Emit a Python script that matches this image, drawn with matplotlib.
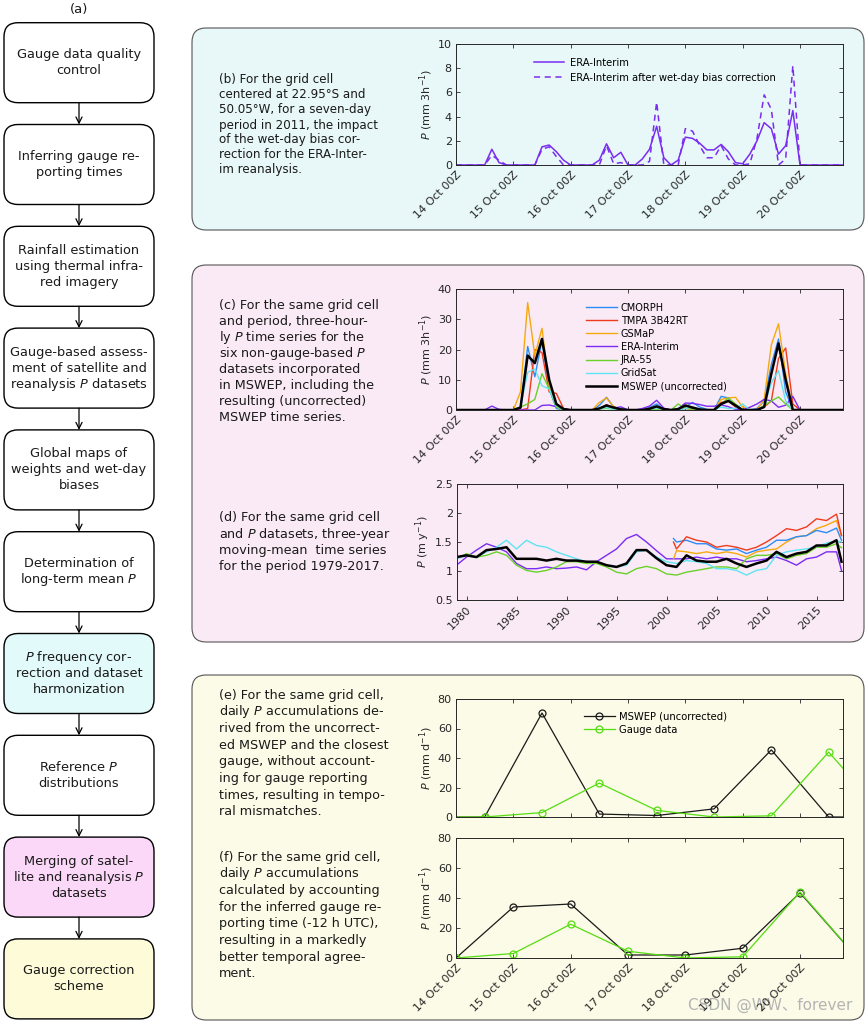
import numpy as np
import matplotlib
matplotlib.use('Agg')
import matplotlib.pyplot as plt
from matplotlib.patches import FancyBboxPatch

plt.rcParams['font.family'] = ['DejaVu Sans', 'Noto Sans CJK SC']
plt.rcParams['mathtext.fontset'] = 'dejavusans'

W, H = 868, 1024

# ---------------- data ----------------
day_labels = ['14 Oct 00Z', '15 Oct 00Z', '16 Oct 00Z', '17 Oct 00Z',
              '18 Oct 00Z', '19 Oct 00Z', '20 Oct 00Z']
t3h = np.arange(55) / 8.0   # 3-hourly time steps (days since 14 Oct 00Z)

# three-hourly P (mm 3h-1), one row per day
era = [0, 0, 0, 0, 0, 1.3, 0.2, 0,
       0, 0, 0, 0, 1.5, 1.65, 1.1, 0.4,
       0, 0, 0, 0, 0.4, 1.75, 0.6, 1.05,
       0, 0, 0.5, 1.3, 3.2, 0.6, 0, 0.4,
       2.3, 2.2, 1.8, 1.25, 1.25, 1.7, 1.1, 0.2,
       0.1, 0.9, 2.0, 3.5, 3.0, 0.9, 1.6, 4.5,
       0, 0, 0, 0, 0, 0, 0]
era_corr = [0, 0, 0, 0, 0, 0.8, 0.4, 0,
            0, 0, 0, 0, 1.3, 1.5, 0.7, 0,
            0, 0, 0, 0, 0, 1.6, 0.1, 0.2,
            0, 0, 0, 0.3, 5.2, 0, 0, 0,
            3.0, 2.8, 1.6, 0.6, 0.6, 1.6, 0.5, 0,
            0, 0.1, 2.2, 5.8, 4.6, 0, 0.5, 8.2,
            0, 0, 0, 0, 0, 0, 0]
cmorph = [0, 0, 0, 0, 0, 0, 0, 0,
          0, 0.5, 21, 11, 23, 7, 0.5, 0,
          0, 0, 0, 0, 1.5, 4.2, 1, 0.3,
          0, 0, 0, 0.8, 2, 0.3, 0, 0,
          1, 2.5, 1, 0.2, 0, 4.5, 4, 1,
          0, 0, 0.5, 3, 15, 23.5, 6, 0,
          0, 0, 0, 0, 0, 0, 0]
tmpa = [0, 0, 0, 0, 0, 0, 0, 0,
        0, 0, 0.5, 20, 19, 6, 5.5, 0.5,
        0, 0, 0, 0, 0.5, 1.2, 1, 0.3,
        0, 0, 0, 0, 0.8, 0.5, 0, 0,
        0.5, 0.3, 0, 0, 0, 2.5, 3, 1,
        0, 0, 0, 1, 3, 17, 20.5, 2,
        0, 0, 0, 0, 0, 0, 0]
gsmap = [0, 0, 0, 0, 0, 0, 0, 0,
         0, 6, 35.5, 18, 27, 8, 1, 0,
         0, 0, 0, 0, 2.5, 4, 1, 0,
         0, 0, 0, 0.5, 1.2, 0.3, 0, 0,
         1.5, 1, 0, 0, 0, 3.5, 4, 4.2,
         1, 0, 0, 3.5, 21.5, 28.5, 12, 0,
         0, 0, 0, 0, 0, 0, 0]
jra55 = [0, 0, 0, 0, 0, 0, 0, 0,
         0, 1, 2, 3.5, 12, 7, 1, 0,
         0, 0, 0, 0, 0.3, 0.5, 0.3, 0,
         0, 0, 0, 0.2, 0.3, 0, 0, 2,
         0.5, 0.3, 0, 0, 0, 2, 4, 2,
         0, 0, 0, 1.5, 3, 4.3, 2, 0,
         0, 0, 0, 0, 0, 0, 0]
gridsat = [0, 0, 0, 0, 0, 0, 0, 0,
           0, 1, 12.5, 13.5, 8, 7, 1.5, 0,
           0, 0, 0, 0, 0.3, 0.8, 0.3, 0,
           0, 0, 0, 0.3, 0.6, 0.2, 0, 0,
           0.5, 1, 0.3, 0, 0, 1, 0.5, 0.5,
           2, 0, 0, 1, 9, 13, 3, 0,
           0, 0, 0, 0, 0, 0, 0]
mswep = [0, 0, 0, 0, 0, 0, 0, 0,
         0, 0.8, 18, 15.5, 23.5, 10, 2, 0.3,
         0, 0, 0, 0, 0.5, 1.5, 0.8, 0.2,
         0, 0, 0, 0.4, 1.2, 0.3, 0, 0.3,
         1.5, 0.8, 0.2, 0, 0, 2, 3, 1.5,
         0, 0, 0, 1, 12, 22, 10, 0,
         0, 0, 0, 0, 0, 0, 0]

# three-year moving means (m y-1)
yr_long = list(range(1979, 2018)) + [2017.5]
era_yr = [1.10, 1.24, 1.36, 1.47, 1.41, 1.33, 1.13, 1.04, 1.04, 1.07,
          1.04, 1.05, 1.07, 1.02, 1.16, 1.27, 1.38, 1.56, 1.63, 1.50,
          1.35, 1.21, 1.21, 1.21, 1.24, 1.21, 1.24, 1.21, 1.21, 1.16,
          1.18, 1.21, 1.24, 1.18, 1.10, 1.21, 1.24, 1.33, 1.33, 1.01]
jra_yr = [1.21, 1.30, 1.24, 1.27, 1.33, 1.27, 1.10, 1.01, 0.98, 1.01,
          1.07, 1.16, 1.16, 1.13, 1.13, 1.07, 0.98, 0.95, 1.04, 1.08,
          1.04, 0.95, 0.93, 0.98, 1.01, 1.04, 1.07, 1.07, 1.04, 1.21,
          1.27, 1.27, 1.30, 1.21, 1.27, 1.30, 1.41, 1.41, 1.47, 1.40]
grid_yr = [1.21, 1.27, 1.24, 1.33, 1.41, 1.53, 1.38, 1.53, 1.44, 1.41,
           1.33, 1.27, 1.21, 1.16, 1.16, 1.10, 1.07, 1.10, 1.33, 1.36,
           1.24, 1.16, 1.13, 1.18, 1.16, 1.13, 1.04, 1.04, 1.01, 0.93,
           1.01, 1.04, 1.27, 1.33, 1.36, 1.38, 1.42, 1.48, 1.52, 1.50]
mswep_yr = [1.24, 1.27, 1.24, 1.36, 1.38, 1.41, 1.21, 1.21, 1.21, 1.18,
            1.21, 1.18, 1.18, 1.16, 1.16, 1.10, 1.07, 1.13, 1.36, 1.36,
            1.22, 1.10, 1.07, 1.27, 1.18, 1.16, 1.16, 1.21, 1.13, 1.07,
            1.13, 1.18, 1.33, 1.24, 1.30, 1.33, 1.44, 1.44, 1.53, 1.16]
yr_sat = [2000.7] + list(range(2001, 2018)) + [2017.5]
cmorph_yr = [1.56, 1.50, 1.53, 1.47, 1.47, 1.38, 1.36, 1.38, 1.30, 1.36,
             1.41, 1.53, 1.53, 1.59, 1.61, 1.70, 1.66, 1.74, 1.53]
tmpa_yr = [1.50, 1.38, 1.59, 1.53, 1.50, 1.41, 1.44, 1.41, 1.36, 1.41,
           1.50, 1.61, 1.73, 1.70, 1.76, 1.90, 1.87, 1.98, 1.61]
gsmap_yr = [1.21, 1.35, 1.33, 1.30, 1.33, 1.30, 1.33, 1.30, 1.24, 1.33,
            1.36, 1.38, 1.50, 1.59, 1.61, 1.73, 1.79, 1.87, 1.61]
year_ticks = [1980, 1985, 1990, 1995, 2000, 2005, 2010, 2015]

# daily accumulations (mm d-1)
e_days = [-0.5, 0.5, 1.5, 2.5, 3.5, 4.5, 5.5, 6.5, 7.5]
e_mswep = [0, 0, 70.5, 2, 1, 5.5, 45.5, 0, 0]
e_gauge = [0, 0, 3, 23, 4.5, 0, 0.8, 44, 0]
f_days = [0, 1, 2, 3, 4, 5, 6, 7]
f_mswep = [0, 34, 36, 2, 2, 6.5, 43.5, 0]
f_gauge = [0, 3, 22.5, 4.5, 0, 0.8, 44, 0]

flow_steps = [
    (['Gauge data quality', 'control'], 'white'),
    (['Inferring gauge re-', 'porting times'], 'white'),
    (['Rainfall estimation', 'using thermal infra-', 'red imagery'], 'white'),
    (['Gauge-based assess-', 'ment of satellite and', 'reanalysis $P$ datasets'], 'white'),
    (['Global maps of', 'weights and wet-day', 'biases'], 'white'),
    (['Determination of', 'long-term mean $P$'], 'white'),
    (['$P$ frequency cor-', 'rection and dataset', 'harmonization'], '#e3fafb'),
    (['Reference $P$', 'distributions'], 'white'),
    (['Merging of satel-', 'lite and reanalysis $P$', 'datasets'], '#fbd8f8'),
    (['Gauge correction', 'scheme'], '#fdfbd8'),
]

text_b = ['(b) For the grid cell', 'centered at 22.95°S and', '50.05°W, for a seven-day',
          'period in 2011, the impact', 'of the wet-day bias cor-',
          'rection for the ERA-Inter-', 'im reanalysis.']
text_c = ['(c) For the same grid cell', 'and period, three-hour-', 'ly $P$ time series for the',
          'six non-gauge-based $P$', 'datasets incorporated', 'in MSWEP, including the',
          'resulting (uncorrected)', 'MSWEP time series.']
text_d = ['(d) For the same grid cell', 'and $P$ datasets, three-year',
          'moving-mean  time series', 'for the period 1979-2017.']
text_e = ['(e) For the same grid cell,', 'daily $P$ accumulations de-', 'rived from the uncorrect-',
          'ed MSWEP and the closest', 'gauge, without account-', 'ing for gauge reporting',
          'times, resulting in tempo-', 'ral mismatches.']
text_f = ['(f) For the same grid cell,', 'daily $P$ accumulations', 'calculated by accounting',
          'for the inferred gauge re-', 'porting time (-12 h UTC),', 'resulting in a markedly',
          'better temporal agree-', 'ment.']

C_CMORPH = '#2a8cf5'
C_TMPA = '#ee3b1c'
C_GSMAP = '#f5a90c'
C_ERA = '#7b2cf2'
C_JRA = '#6ad12a'
C_GRID = '#5fe4f2'
C_GAUGE = '#55dd11'

# ---------------- figure ----------------
fig = plt.figure(figsize=(W / 100, H / 100), dpi=100)
bg = fig.add_axes([0, 0, 1, 1])
bg.set_xlim(0, W)
bg.set_ylim(H, 0)
bg.axis('off')
bg.set_zorder(0)


def rbox(x0, y0, x1, y1, fc, ec, lw, r):
    p = FancyBboxPatch((x0, y0), x1 - x0, y1 - y0,
                       boxstyle='round,pad=0,rounding_size=%g' % r,
                       fc=fc, ec=ec, lw=lw)
    bg.add_patch(p)


def lines(x, y0, dy, items, fs, ha='left'):
    for i, s in enumerate(items):
        bg.text(x, y0 + i * dy, s, fontsize=fs, ha=ha, va='center', color='#1a1a1a')


# flowchart
bg.text(79, 10, '(a)', fontsize=9.5, ha='center', va='center', color='#1a1a1a')
box_top, box_h, box_step = 22.7, 80, 101.8
for i, (txt, fc) in enumerate(flow_steps):
    y0 = box_top + i * box_step
    rbox(4, y0, 154, y0 + box_h, fc, 'black', 1.0, 14)
    n = len(txt)
    lines(79, y0 + box_h / 2 - (n - 1) * 8, 16, txt, 9.3, ha='center')
    if i < len(flow_steps) - 1:
        bg.annotate('', xy=(79, y0 + box_step), xytext=(79, y0 + box_h),
                    arrowprops=dict(arrowstyle='->', lw=0.9, color='black',
                                    shrinkA=0, shrinkB=0, mutation_scale=11))

# panel backgrounds
rbox(192, 28, 864, 230, '#e8f7f7', '#555555', 0.8, 14)
rbox(192, 265, 864, 642, '#faeaf6', '#555555', 0.8, 14)
rbox(192, 675, 864, 1020, '#fbfbe7', '#555555', 0.8, 14)

lines(219, 80, 15, text_b, 8.6)
lines(219, 305, 16.1, text_c, 9.2)
lines(219, 518, 16.3, text_d, 9.2)
lines(219, 695, 16.7, text_e, 9.2)
lines(219, 857, 16.7, text_f, 9.2)

bg.text(852, 1005, 'CSDN @WW、forever', fontsize=11, ha='right', va='center', color='#b4b4b4')


def add_ax(left, top, right, bottom):
    ax = fig.add_axes([left / W, 1 - bottom / H, (right - left) / W, (bottom - top) / H])
    ax.set_facecolor('none')
    ax.set_zorder(1)
    ax.tick_params(direction='in', top=True, right=True, length=3, width=0.6,
                   labelsize=8, colors='#262626', pad=3)
    for s in ax.spines.values():
        s.set_linewidth(0.7)
        s.set_color('#262626')
    return ax


def day_axis(ax, labels=True):
    ax.set_xlim(0, 6.75)
    ax.set_xticks(range(7))
    if labels:
        ax.set_xticklabels(day_labels, rotation=45, ha='right', rotation_mode='anchor')
    else:
        ax.set_xticklabels([])


# (b)
ax = add_ax(456, 44, 843, 165)
ax.plot(t3h, era, color=C_ERA, lw=1.1, label='ERA-Interim')
ax.plot(t3h, era_corr, color=C_ERA, lw=1.1, ls=(0, (4, 3)),
        label='ERA-Interim after wet-day bias correction')
ax.set_ylim(0, 10)
ax.set_yticks([0, 2, 4, 6, 8, 10])
day_axis(ax)
ax.set_ylabel('$P$ (mm 3h$^{-1}$)', fontsize=8, labelpad=2, color='#262626')
ax.legend(loc='upper left', bbox_to_anchor=(0.19, 0.92), frameon=False, fontsize=7.2,
          handlelength=3.0, handletextpad=0.6, labelspacing=0.5, borderaxespad=0)

# (c)
ax = add_ax(456, 289, 843, 410)
series_c = [(cmorph, C_CMORPH, 'CMORPH', 1.0), (tmpa, C_TMPA, 'TMPA 3B42RT', 1.0),
            (gsmap, C_GSMAP, 'GSMaP', 1.0), (era, C_ERA, 'ERA-Interim', 1.0),
            (jra55, C_JRA, 'JRA-55', 1.0), (gridsat, C_GRID, 'GridSat', 1.0),
            (mswep, 'black', 'MSWEP (uncorrected)', 1.8)]
for vals, col, lab, lw in series_c:
    ax.plot(t3h, vals, color=col, lw=lw, label=lab)
ax.set_ylim(0, 40)
ax.set_yticks([0, 10, 20, 30, 40])
day_axis(ax)
ax.set_ylabel('$P$ (mm 3h$^{-1}$)', fontsize=8, labelpad=2, color='#262626')
ax.legend(loc='upper left', bbox_to_anchor=(0.325, 0.92), frameon=False, fontsize=7,
          handlelength=3.2, handletextpad=0.4, labelspacing=0.32, borderaxespad=0)

# (d)
ax = add_ax(457, 484, 843, 600)
ax.plot(yr_long, era_yr, color=C_ERA, lw=1.0)
ax.plot(yr_long, jra_yr, color=C_JRA, lw=1.0)
ax.plot(yr_long, grid_yr, color=C_GRID, lw=1.0)
ax.plot(yr_sat, gsmap_yr, color=C_GSMAP, lw=1.0)
ax.plot(yr_sat, cmorph_yr, color=C_CMORPH, lw=1.0)
ax.plot(yr_sat, tmpa_yr, color=C_TMPA, lw=1.0)
ax.plot(yr_long, mswep_yr, color='black', lw=1.8)
ax.set_xlim(1979.05, 2017.65)
ax.set_xticks(year_ticks)
ax.set_xticklabels([str(y) for y in year_ticks], rotation=45, ha='right', rotation_mode='anchor')
ax.set_ylim(0.5, 2.5)
ax.set_yticks([0.5, 1, 1.5, 2, 2.5])
ax.set_yticklabels(['0.5', '1', '1.5', '2', '2.5'])
ax.set_ylabel('$P$ (m y$^{-1}$)', fontsize=8, labelpad=2, color='#262626')


def daily(ax, days, m_vals, g_vals, legend):
    d = np.array(days, dtype=float)
    inside = list(np.where((d >= 0) & (d <= 6.75))[0])
    ax.plot(d, m_vals, color='#1a1a1a', lw=0.9, label='MSWEP (uncorrected)',
            marker='o', ms=5, mfc='none', mew=0.9, markevery=inside)
    ax.plot(d, g_vals, color=C_GAUGE, lw=0.9, label='Gauge data',
            marker='o', ms=5, mfc='none', mew=0.9, markevery=inside)
    ax.set_ylim(0, 80)
    ax.set_yticks([0, 20, 40, 60, 80])
    ax.set_ylabel('$P$ (mm d$^{-1}$)', fontsize=8, labelpad=2, color='#262626')
    if legend:
        ax.legend(loc='upper left', bbox_to_anchor=(0.32, 0.93), frameon=False, fontsize=7.2,
                  handlelength=3.1, handletextpad=0.4, labelspacing=0.35, borderaxespad=0)


ax = add_ax(456, 699, 843, 817)
daily(ax, e_days, e_mswep, e_gauge, True)
day_axis(ax, labels=False)

ax = add_ax(456, 838, 843, 958)
daily(ax, f_days, f_mswep, f_gauge, False)
day_axis(ax)

fig.savefig('out.png', dpi=100)
